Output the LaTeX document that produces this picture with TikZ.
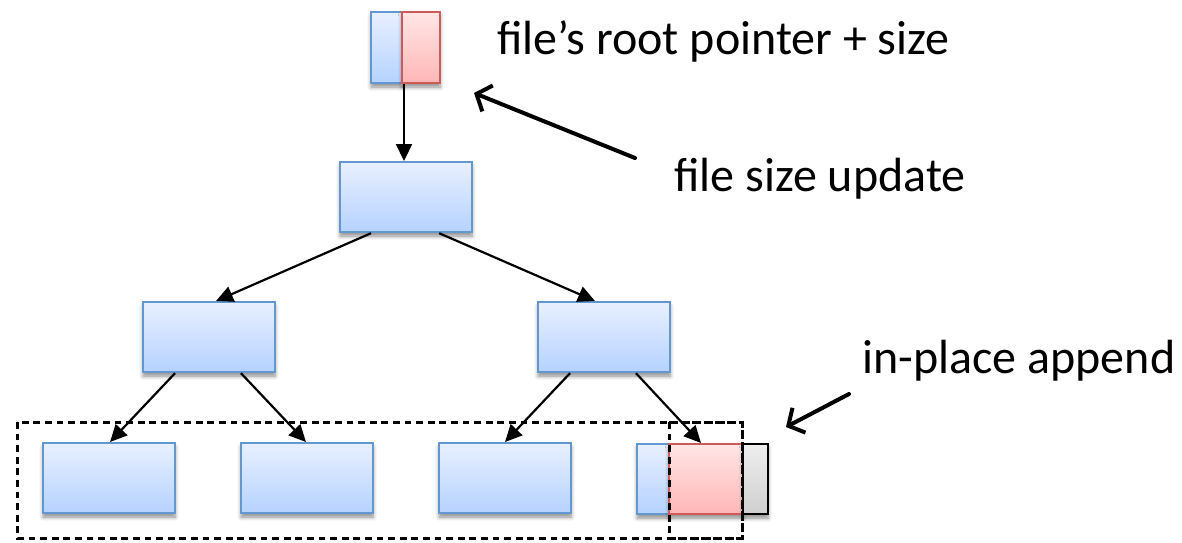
\documentclass[tikz,border=0pt]{standalone}
\usepackage{fontspec}
\setmainfont{Carlito}
\usetikzlibrary{arrows.meta,calc,shadows.blur}

\definecolor{bluetop}{HTML}{E8F0FF}
\definecolor{bluebot}{HTML}{B5D2FF}
\definecolor{blueline}{HTML}{6397D0}
\definecolor{redtop}{HTML}{FFE6E6}
\definecolor{redbot}{HTML}{FFB6B6}
\definecolor{redline}{HTML}{CF5A58}
\definecolor{greytop}{HTML}{EEEEEE}
\definecolor{greybot}{HTML}{CFCFCF}

\tikzset{
  cell/.style={rectangle, inner sep=0pt, anchor=north west, line width=1.1pt,
    blur shadow={shadow xshift=0pt, shadow yshift=-2pt, shadow blur steps=6,
                 shadow blur radius=2pt, shadow opacity=45}},
  bluecell/.style={cell, draw=blueline, top color=bluetop, bottom color=bluebot},
  redcell/.style={cell, draw=redline, top color=redtop, bottom color=redbot},
  greycell/.style={cell, draw=black, top color=greytop, bottom color=greybot},
  wide/.style={minimum width=66pt, minimum height=35pt},
  link/.style={line width=1.1pt, -{Triangle[length=8.5pt,width=8pt]}},
  callout/.style={line width=2pt, line cap=round,
    -{Straight Barb[length=6pt,width=14pt,line width=2pt]}},
  label/.style={anchor=base west, inner sep=0pt,
    font=\fontsize{24}{28}\selectfont},
  groupbox/.style={line width=1.5pt, dash pattern=on 3.4pt off 2.4pt},
}

\begin{document}
\begin{tikzpicture}[x=0.5pt, y=-0.5pt]
\useasboundingbox (0,0) rectangle (1182,542);

% root pointer + size record
\node[bluecell, minimum width=15.5pt, minimum height=35.5pt] (ptr) at (370,11) {};
\node[redcell,  minimum width=19pt,   minimum height=35.5pt] (sz)  at (401,11) {};

% tree nodes
\node[bluecell, wide] (root) at (339,161) {};
\node[bluecell, wide] (left) at (142,301) {};
\node[bluecell, wide] (right) at (537,301) {};

\node[bluecell, wide] (leafa) at (42,442) {};
\node[bluecell, wide] (leafb) at (240,442) {};
\node[bluecell, wide] (leafc) at (438,442) {};
\node[bluecell, minimum width=16pt, minimum height=35pt] (leafd) at (636,443) {};
\node[redcell,  minimum width=37pt, minimum height=35pt] (leafe) at (668,443) {};
\node[greycell, minimum width=12.5pt, minimum height=35pt] (leaff) at (742,443) {};

% leaf level groupings
\draw[groupbox] (17,422) rectangle (742,538);
\draw[groupbox] (669,422) rectangle (742,538);

% tree links
\draw[link] ($(sz.south west)+(3,0)$) -- ($(sz.south west |- root.north)+(3,0)$);
\draw[link] ($(root.south west)+(32,0)$) -- ($(left.north west)+(74,0)$);
\draw[link] ($(root.south east)+(-34,0)$) -- ($(right.north west)+(58,0)$);
\draw[link] ($(left.south west)+(33,0)$) -- ($(leafa.north west)+(68,0)$);
\draw[link] ($(left.south west)+(99,0)$) -- ($(leafb.north west)+(66,0)$);
\draw[link] ($(right.south west)+(33,0)$) -- ($(leafc.north west)+(67,0)$);
\draw[link] ($(right.south west)+(99,0)$) -- ($(leafe.north west)+(33,0)$);

% labels
\node[label] (tptr) at (497,54) {file’s root pointer + size};
\node[label] (tupd) at (674,191) {file size update};
\node[label] (tapp) at (862,373) {in-place append};

% callout arrows
\coordinate (updtail) at (635,158);
\coordinate (updhead) at (474,93);
\coordinate (apptail) at (849,394);
\coordinate (apphead) at (786,427);
\draw[callout] (updtail) -- (updhead);
\draw[callout] (apptail) -- (apphead);
\end{tikzpicture}
\end{document}
